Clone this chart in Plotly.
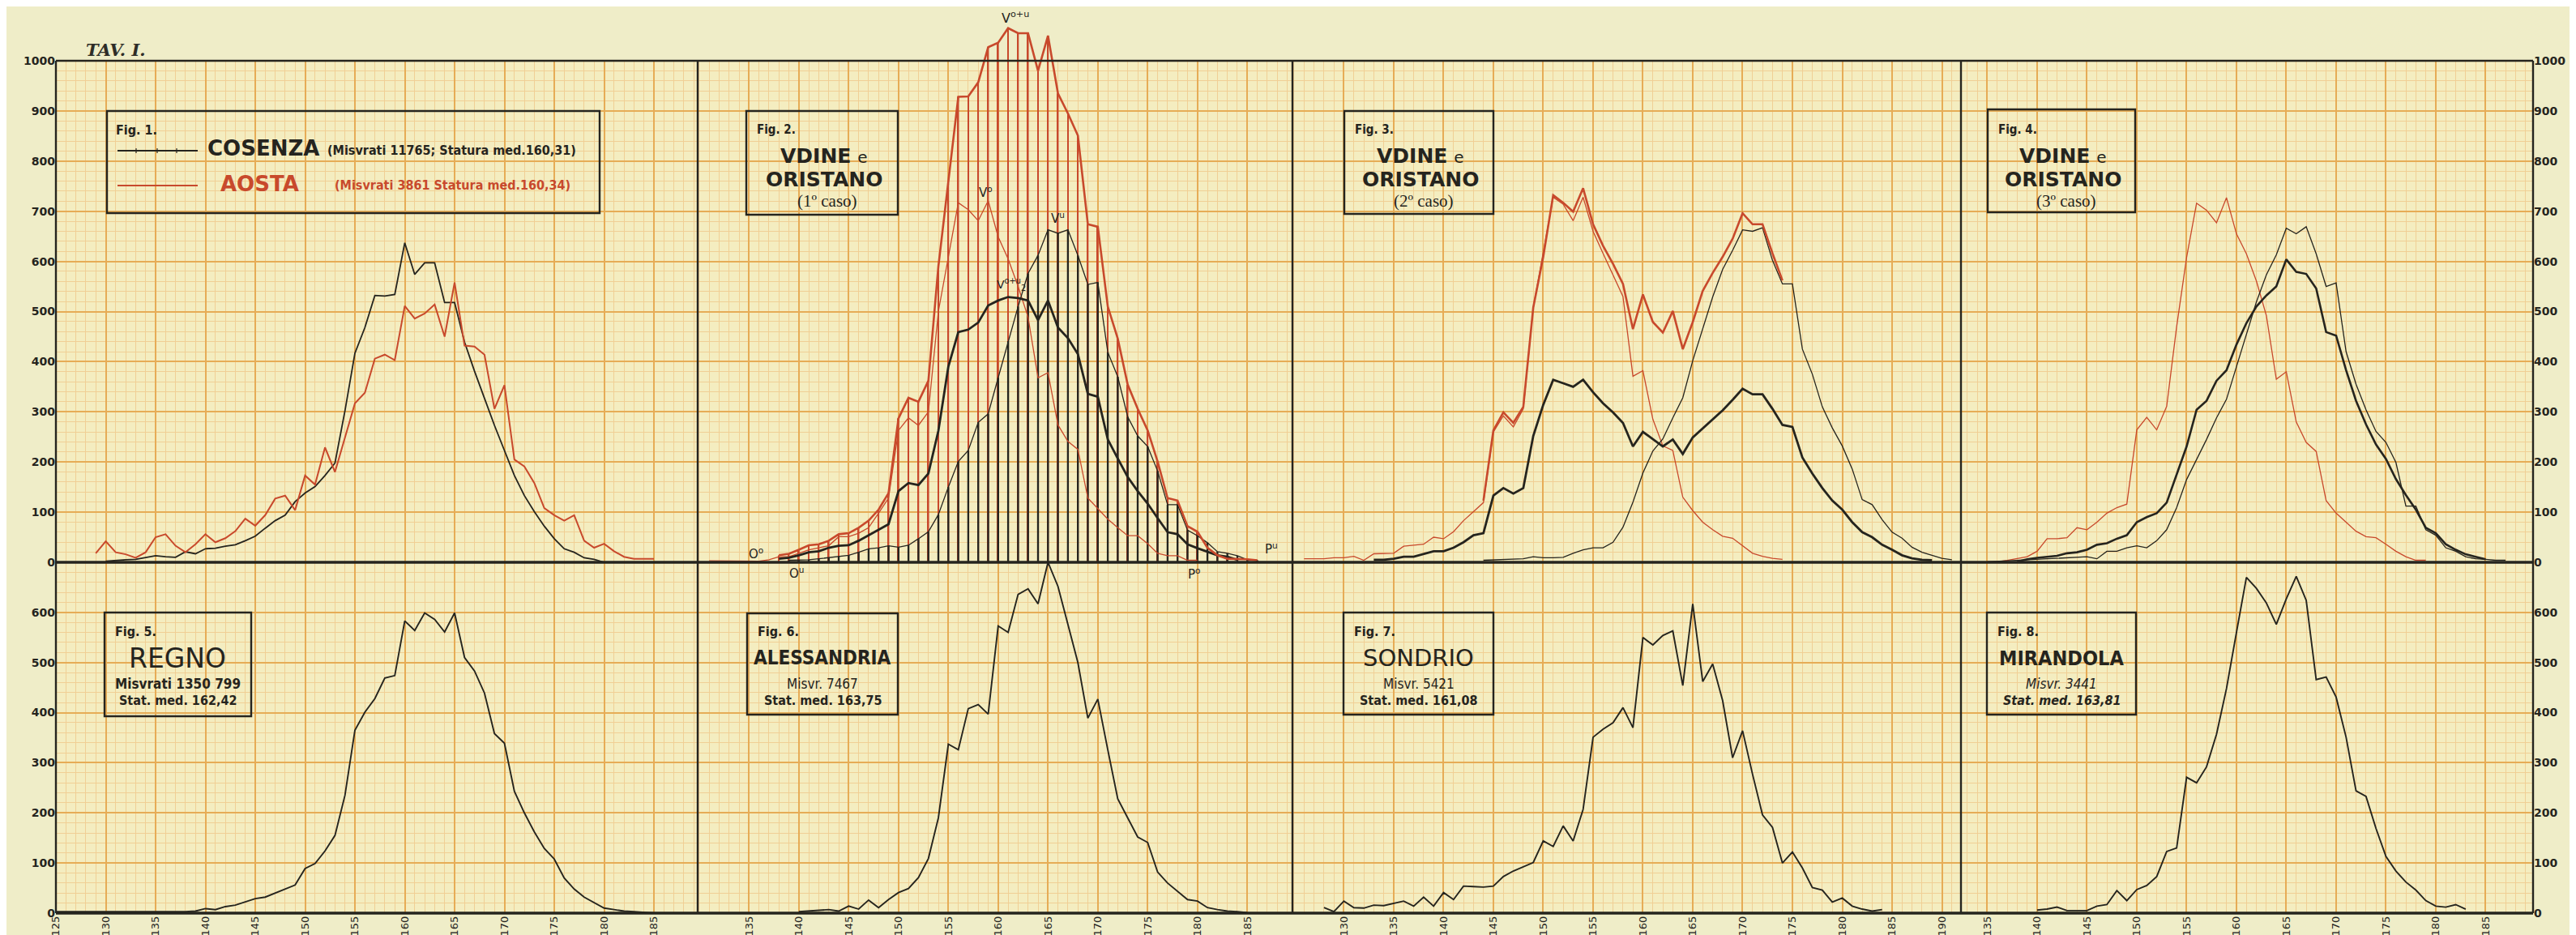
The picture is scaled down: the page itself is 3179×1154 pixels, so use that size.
import plotly.graph_objects as go

W, H = 3179, 1154

# ------------------------------------------------------------------
# DATA  (stature in cm -> frequency, as read from the plates)
# ------------------------------------------------------------------
# Fig. 1
cosenza_cm = list(range(130, 181))
cosenza_val = [2, 4, 5, 6, 9, 13, 11, 10, 21, 17, 27, 28, 32, 35, 43,
               52, 68, 83, 94, 121, 138, 151, 173, 198, 302,
               417, 468, 532, 531, 534, 637, 574, 597, 597, 518,
               518, 439, 381, 327, 273, 223, 173, 133, 101, 72,
               47, 27, 20, 9, 6, 0]
aosta_cm = list(range(129, 186))
aosta_val = [18, 42, 20, 16, 9, 20, 50, 56, 33, 20, 36, 56, 40, 48, 62, 87,
             73, 94, 127, 133, 104, 173, 155, 229, 180, 248,
             317, 338, 406, 414, 403, 511, 486, 496, 514, 450,
             558, 432, 430, 414, 306, 353, 205, 191, 158, 108,
             94, 83, 94, 43, 29, 37, 22, 11, 7, 7, 7]

# Fig. 2  (1º caso)
f2_sum_cm = list(range(138, 187))
f2_sum_val = [14, 17, 25, 34, 36, 43, 56, 58, 69, 83, 105, 138,
              287, 328, 320, 362, 590, 755, 928, 929, 957, 1027,
              1036, 1065, 1055, 1055, 980, 1050, 935, 895, 851, 674,
              669, 510, 446, 354, 306, 263, 201, 128, 123, 72,
              61, 29, 14, 7, 7, 6, 4]
f2_o_cm = list(range(131, 181))
f2_o_val = [3, 3, 3, 3, 3, 2, 5,
            11, 11, 18, 25, 29, 33, 51, 51, 58, 69, 98, 128,
            263, 288, 273, 300, 500, 610, 717, 703, 681, 721,
            649, 605, 550, 489, 368, 378, 274, 241, 225, 128,
            107, 86, 69, 53, 53, 37, 18, 13, 13, 4,
            4]
f2_u_cm = list(range(139, 187))
f2_u_val = [4, 4, 5, 7, 9, 12, 14, 20, 27, 29, 33,
            30, 34, 47, 61, 95, 150, 201, 223, 279, 296,
            368, 441, 510, 576, 612, 663, 656, 663, 612, 554,
            558, 419, 370, 290, 252, 231, 182, 115, 115, 64,
            53, 39, 21, 18, 13, 5, 4]
f2_half_cm = list(range(138, 185))
f2_half_val = [7, 9, 14, 20, 22, 29, 33, 34, 43, 54, 65, 76,
               142, 158, 154, 177, 262, 390, 459, 464, 478, 512,
               522, 529, 527, 522, 483, 522, 468, 447, 415, 336,
               330, 245, 207, 170, 142, 117, 88, 60, 56, 36,
               28, 21, 14, 11, 5]

# Fig. 3  (2º caso)
f3_o_cm = list(range(126, 175))
f3_o_val = [7, 7, 7, 9, 9, 12, 4, 17, 18, 18,
            32, 34, 36, 50, 47, 61, 83, 101, 119,
            260, 292, 270, 306, 508,
            616, 728, 714, 681, 728, 660, 616, 573, 530, 371,
            382, 285, 232, 223, 130, 103, 80, 65, 52, 48,
            33, 18, 12, 8, 6]
f3_sum_cm = list(range(144, 175))
f3_sum_val = [123, 263, 299, 278, 310, 508,
              609, 732, 717, 699, 746, 674, 631, 595, 555, 465,
              534, 479, 458, 501, 425, 479, 541, 577, 609, 645,
              696, 674, 674, 616, 562]
f3_u_cm = list(range(144, 192))
f3_u_val = [4, 5, 5, 7, 7, 11,
            9, 9, 10, 18, 25, 29, 29, 40, 70, 120,
            178, 222, 246, 288, 328, 402, 466, 529, 584, 622,
            663, 660, 667, 602, 555, 555, 425, 375, 310, 268,
            232, 186, 125, 115, 85, 60, 48, 30, 20, 14,
            8, 5]
f3_half_cm = list(range(133, 190))
f3_half_val = [5, 5, 7, 11, 11, 17, 22,
               22, 29, 40, 54, 58, 133, 148, 137, 148, 252,
               314, 364, 357, 350, 364, 339, 317, 299, 278, 231,
               260, 245, 231, 245, 216, 249, 267, 285, 303, 324,
               346, 335, 335, 306, 274, 270, 209, 177, 148, 123,
               105, 80, 60, 50, 35, 25, 14, 8, 5, 4]

# Fig. 4  (3º caso)
f4_o_cm = list(range(135, 180))
f4_o_val = [1, 1, 4, 7, 11, 22, 47, 47, 49, 69,
            65, 80, 98, 109, 116,
            264, 289, 264, 311, 470, 608, 716, 702, 677, 727,
            655, 615, 561, 492, 365, 380, 280, 239, 221, 123,
            98, 80, 62, 51, 49, 36, 22, 11, 4, 4]
f4_thick_cm = list(range(138, 186))
f4_thick_val = [1, 6, 9, 11, 13, 18, 20,
                25, 35, 38, 47, 54,
                80, 90, 98, 119, 174, 231, 304, 322, 362, 383,
                434, 477, 510, 532, 550, 604, 579, 575, 546, 459,
                452, 383, 322, 275, 235, 206, 166, 134, 105, 69,
                58, 36, 25, 16, 11, 6]
f4_u_cm = list(range(135, 188))
f4_u_val = [1, 2, 3, 4, 5, 6, 7, 8, 9, 11,
            11, 7, 22, 22, 29,
            33, 29, 43, 65, 109, 165, 205, 245, 288, 325,
            390, 455, 519, 573, 613, 666, 655, 669, 615, 550,
            557, 420, 355, 304, 261, 239, 199, 112, 112, 65,
            54, 29, 22, 11, 7, 6, 4, 4]

# Fig. 5  Regno
regno_cm = list(range(125, 186))
regno_val = [3, 3, 3, 3, 3, 3, 2, 2, 2, 2,
             2, 2, 2, 3, 4,
             9, 7, 13, 16, 22, 29, 32, 40, 47, 56,
             89, 99, 124, 155, 235, 365, 401, 428, 469, 474,
             583, 564, 599, 586, 561, 599, 510, 483, 439, 358,
             339, 243, 200, 162, 129, 108, 70, 48, 32, 21,
             10, 7, 4, 3, 1, 0]
# Fig. 6  Alessandria
alessandria_cm = list(range(140, 186))
alessandria_val = [3, 4, 5, 7, 4, 14, 8, 26, 11, 27,
                   41, 49, 71, 109, 190, 337, 326, 408, 416, 397,
                   573, 560, 636, 647, 617, 700, 652, 576, 500, 389,
                   427, 326, 228, 190, 152, 141, 82, 60, 43, 27,
                   24, 11, 7, 4, 3, 1]
# Fig. 7  Sondrio
sondrio_cm = list(range(128, 185))
sondrio_val = [11, 3, 24, 11, 10, 16, 15, 19, 24, 14,
               32, 14, 41, 27, 54, 53, 52, 54, 73, 84,
               92, 101, 144, 133, 174, 144, 207, 351, 367, 380,
               410, 370, 550, 535, 554, 563, 454, 617, 462, 497,
               424, 310, 364, 277, 196, 171, 100, 122, 90, 51,
               46, 22, 30, 14, 8, 4, 7]
# Fig. 8  Mirandola
mirandola_cm = list(range(140, 184))
mirandola_val = [6, 8, 12, 5, 5, 5, 14, 17, 45, 25,
                 47, 55, 73, 123, 130, 271, 260, 292, 357, 448,
                 560, 670, 648, 619, 576, 627, 672, 624, 466, 471,
                 431, 351, 244, 233, 169, 113, 84, 62, 46, 25,
                 14, 12, 17, 8]

# tick labels
x_labels = [
    [125, 130, 135, 140, 145, 150, 155, 160, 165, 170, 175, 180, 185],
    [135, 140, 145, 150, 155, 160, 165, 170, 175, 180, 185],
    [130, 135, 140, 145, 150, 155, 160, 165, 170, 175, 180, 185, 190],
    [135, 140, 145, 150, 155, 160, 165, 170, 175, 180, 185],
]
y_labels_top = [0, 100, 200, 300, 400, 500, 600, 700, 800, 900, 1000]
y_labels_bottom = [0, 100, 200, 300, 400, 500, 600]

# ------------------------------------------------------------------
# STYLE / GEOMETRY
# ------------------------------------------------------------------
INK = "#25241e"
RED = "#c8492c"
PAPER = "#efedc8"
PLOTBG = "#f4edc0"
MAJ = "#e6ac56"
MIN = "#f0cf95"
SANS = "DejaVu Sans"
COND = "DejaVu Sans Condensed, Liberation Sans Narrow, DejaVu Sans"
SERIF = "DejaVu Serif"
LSERIF = "Liberation Serif, DejaVu Serif"

COL_PX = [61, 853, 1587, 2412, 3118]
COL_RANGE = [(125.0, 189.39), (129.85, 189.53), (124.84, 191.91), (132.36, 189.76)]
TOP_PX = (67, 686)
BOT_PX = (686, 1119)
OVER_PX = (11, 67)


def px(x):
    return x / W


def py(y):
    return 1 - y / H


fig = go.Figure()
layout = {}


def aname(i, letter):
    return f"{letter}axis" if i == 1 else f"{letter}axis{i}"


def aref(i, letter):
    return letter if i == 1 else f"{letter}{i}"


for r in range(2):
    for c in range(4):
        i = r * 4 + c + 1
        lo, hi = COL_RANGE[c]
        tv = [v for v in x_labels[c] if lo <= v <= hi]
        layout[aname(i, "x")] = dict(
            domain=[px(COL_PX[c]), px(COL_PX[c + 1])], range=[lo, hi],
            anchor=aref(i, "y"), showline=False, zeroline=False,
            showgrid=True, gridcolor=MAJ, gridwidth=1.7,
            tickmode="array", tickvals=tv, ticktext=[str(v) for v in tv],
            ticks="", ticklen=0,
            showticklabels=(r == 1), tickangle=-90,
            tickfont=dict(family=SANS, size=13, color="#26251f"),
            minor=dict(dtick=1, tick0=0, showgrid=True, gridcolor=MIN, gridwidth=0.9),
            fixedrange=True, automargin=False,
        )
        if r == 0:
            ydom = [py(TOP_PX[1]), py(TOP_PX[0])]
            yr = [0, 1000]
            ytv = y_labels_top
        else:
            ydom = [py(BOT_PX[1]), py(BOT_PX[0])]
            yr = [0, 700]
            ytv = y_labels_bottom
        layout[aname(i, "y")] = dict(
            domain=ydom, range=yr, anchor=aref(i, "x"),
            showline=False, zeroline=False, showgrid=True,
            gridcolor=MAJ, gridwidth=1.7,
            tickmode="array", tickvals=ytv, ticktext=[str(v) for v in ytv],
            ticks="", ticklen=0,
            showticklabels=(c in (0, 3)), side=("right" if c == 3 else "left"),
            tickfont=dict(family=SANS, size=14, color=INK, weight="bold"),
            minor=dict(dtick=20, tick0=0, showgrid=True, gridcolor=MIN, gridwidth=0.9),
            fixedrange=True, automargin=False,
        )

# overflow area above Fig. 2 (values above 1000)
layout["xaxis9"] = dict(domain=[px(COL_PX[1]), px(COL_PX[2])], range=list(COL_RANGE[1]),
                        anchor="y9", visible=False, showgrid=False, zeroline=False, fixedrange=True)
layout["yaxis9"] = dict(domain=[py(OVER_PX[1]), py(OVER_PX[0])],
                        range=[1000, 1000 + (OVER_PX[1] - OVER_PX[0]) / ((TOP_PX[1] - TOP_PX[0]) / 1000)],
                        anchor="x9", visible=False, showgrid=False, zeroline=False, fixedrange=True)


def add_line(i, xs, ys, color, width):
    fig.add_trace(go.Scatter(x=xs, y=ys, mode="lines",
                             line=dict(color=color, width=width),
                             xaxis=aref(i, "x"), yaxis=aref(i, "y"),
                             hoverinfo="skip", showlegend=False))


def add_bars(i, xs, ys, color, width):
    fig.add_trace(go.Bar(x=xs, y=ys, width=width,
                         marker=dict(color=color, line=dict(width=0)),
                         xaxis=aref(i, "x"), yaxis=aref(i, "y"),
                         hoverinfo="skip", showlegend=False))


# Fig 2 bars (red up to V o+u, black up to V u)
for i in (2, 9):
    add_bars(i, f2_sum_cm, f2_sum_val, RED, 0.14)
add_bars(2, f2_u_cm, f2_u_val, INK, 0.19)

# Fig 1
add_line(1, cosenza_cm, cosenza_val, INK, 1.8)
add_line(1, aosta_cm, aosta_val, RED, 2.0)
# Fig 2
add_line(2, f2_o_cm, f2_o_val, RED, 1.3)
add_line(2, f2_u_cm, f2_u_val, INK, 1.3)
add_line(2, f2_half_cm, f2_half_val, INK, 2.8)
add_line(2, f2_sum_cm, f2_sum_val, RED, 2.6)
add_line(9, f2_sum_cm, f2_sum_val, RED, 2.6)
# Fig 3
add_line(3, f3_o_cm, f3_o_val, RED, 1.3)
add_line(3, f3_u_cm, f3_u_val, INK, 1.3)
add_line(3, f3_half_cm, f3_half_val, INK, 2.8)
add_line(3, f3_sum_cm, f3_sum_val, RED, 2.6)
# Fig 4
add_line(4, f4_o_cm, f4_o_val, RED, 1.3)
add_line(4, f4_u_cm, f4_u_val, INK, 1.3)
add_line(4, f4_thick_cm, f4_thick_val, INK, 2.6)
# Fig 5-8
add_line(5, regno_cm, regno_val, INK, 1.9)
add_line(6, alessandria_cm, alessandria_val, INK, 1.9)
add_line(7, sondrio_cm, sondrio_val, INK, 1.9)
add_line(8, mirandola_cm, mirandola_val, INK, 1.9)

# ------------------------------------------------------------------
# shapes: paper grid background, borders, boxes
# ------------------------------------------------------------------
shapes = []


def rect(x0, y0, x1, y1, lw=2.4, color=INK):
    shapes.append(dict(type="rect", xref="paper", yref="paper",
                       x0=px(x0), x1=px(x1), y0=py(y1), y1=py(y0),
                       line=dict(color=color, width=lw),
                       fillcolor="rgba(0,0,0,0)", layer="above"))


def hline(x0, x1, y, lw, color=INK):
    shapes.append(dict(type="line", xref="paper", yref="paper",
                       x0=px(x0), x1=px(x1), y0=py(y), y1=py(y),
                       line=dict(color=color, width=lw), layer="above"))


def vline(x, y0, y1, lw, color=INK):
    shapes.append(dict(type="line", xref="paper", yref="paper",
                       x0=px(x), x1=px(x), y0=py(y0), y1=py(y1),
                       line=dict(color=color, width=lw), layer="above"))


shapes.append(dict(type="rect", xref="paper", yref="paper",
                   x0=px(COL_PX[0]), x1=px(COL_PX[4]), y0=py(BOT_PX[1]), y1=py(TOP_PX[0]),
                   line=dict(width=0), fillcolor=PLOTBG, layer="below"))

hline(COL_PX[0], COL_PX[4], TOP_PX[0], 2.6)
hline(COL_PX[0], COL_PX[4], TOP_PX[1], 3.4)
hline(COL_PX[0], COL_PX[4], BOT_PX[1], 3.4)
for xx in COL_PX:
    vline(xx, TOP_PX[0], BOT_PX[1], 2.4)

# legend / title boxes
rect(124, 129, 732, 255)
rect(913, 129, 1100, 257)
rect(1651, 129, 1835, 256)
rect(2445, 127, 2627, 254)
rect(121, 748, 302, 876)
rect(914, 749, 1100, 874)
rect(1650, 748, 1835, 874)
rect(2444, 748, 2628, 874)

# Fig 1 legend line samples
hline(137, 236, 178, 2.0)
for tx in (160, 186, 210):
    vline(tx, 175, 181, 1.2)
hline(137, 236, 221, 2.0, RED)

# ------------------------------------------------------------------
# texts
# ------------------------------------------------------------------
ann = []


def txt(x, y, s, size, family=SANS, color=INK, anchor="center"):
    ann.append(dict(x=px(x), y=py(y), xref="paper", yref="paper", text=s,
                    showarrow=False, xanchor=anchor, yanchor="middle",
                    font=dict(size=size, family=family, color=color)))


txt(96, 53, "<b><i>TAV. I.</i></b>", 21, SERIF, "#2e2d27", "left")

# Fig 1
txt(133, 152, "<b>Fig. 1.</b>", 16, COND, INK, "left")
txt(246, 175, "<b>COSENZA</b>", 26, SANS, INK, "left")
txt(394, 177, "<b>(Misvrati 11765; Statura med.160,31)</b>", 16, COND, INK, "left")
txt(262, 219, "<b>AOSTA</b>", 26, SANS, RED, "left")
txt(403, 221, "<b>(Misvrati 3861 Statura med.160,34)</b>", 16, COND, RED, "left")


def udine_box(x0, x1, fig_label, caso):
    cx = (x0 + x1) / 2
    txt(x0 + 11, 152, "<b>" + fig_label + "</b>", 15, COND, INK, "left")
    txt(cx + 2, 185, "<b>VDINE</b> <span style='font-size:20px'>e</span>", 25, SANS, INK)
    txt(cx + 2, 213, "<b>ORISTANO</b>", 25, SANS, INK)
    txt(cx + 6, 240, caso, 21, LSERIF, INK)


udine_box(913, 1100, "Fig. 2.", "(1º caso)")
udine_box(1651, 1835, "Fig. 3.", "(2º caso)")
udine_box(2445, 2627, "Fig. 4.", "(3º caso)")

# Fig 2 curve labels
txt(1245, 13, "V<sup>o+u</sup>", 16, SANS, INK)
txt(1208, 229, "V<sup>o</sup>", 15, SANS, INK)
txt(1297, 261, "V<sup>u</sup>", 15, SANS, INK)
txt(1240, 343, "V<sup>o+u</sup><sub>2</sub>", 14, SANS, INK)
txt(925, 675, "O<sup>o</sup>", 15, SANS, INK)
txt(975, 699, "O<sup>u</sup>", 15, SANS, INK)
txt(1561, 669, "P<sup>u</sup>", 15, SANS, INK)
txt(1465, 700, "P<sup>o</sup>", 15, SANS, INK)


def city_box(x0, x1, fig_label, name, name_size, name_font, line1, line2):
    cx = (x0 + x1) / 2
    txt(x0 + 11, 771, "<b>" + fig_label + "</b>", 16, COND, INK, "left")
    txt(cx, 804, name, name_size, name_font, INK)
    txt(cx, 836, line1, 17, COND, INK)
    txt(cx, 856, line2, 16, COND, INK)


city_box(121, 302, "Fig. 5.", "REGNO", 33, SANS, "<b>Misvrati 1350 799</b>", "<b>Stat. med. 162,42</b>")
city_box(914, 1100, "Fig. 6.", "<b>ALESSANDRIA</b>", 24, COND, "Misvr. 7467", "<b>Stat. med. 163,75</b>")
city_box(1650, 1835, "Fig. 7.", "SONDRIO", 29, SANS, "Misvr. 5421", "<b>Stat. med. 161,08</b>")
city_box(2444, 2628, "Fig. 8.", "<b>MIRANDOLA</b>", 25, COND, "<i>Misvr. 3441</i>", "<b><i>Stat. med. 163,81</i></b>")

fig.update_layout(
    width=W, height=H, autosize=False,
    margin=dict(l=0, r=0, t=0, b=0),
    template="none",
    paper_bgcolor=PAPER, plot_bgcolor="rgba(0,0,0,0)",
    barmode="overlay", showlegend=False,
    shapes=shapes, annotations=ann,
    **layout,
)

fig.write_html("out.html", config={"displayModeBar": False})
